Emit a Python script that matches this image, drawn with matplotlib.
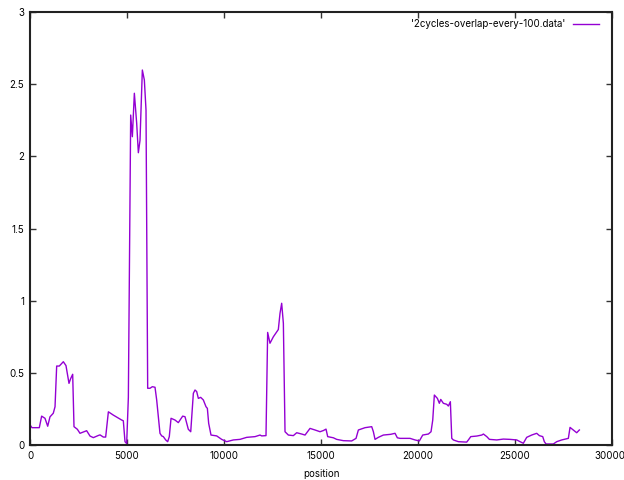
import matplotlib
matplotlib.use("Agg")
import matplotlib.pyplot as plt
import matplotlib.transforms as mtransforms

plt.rcParams["font.family"] = ["Inter", "DejaVu Sans"]

position = [
    0, 100, 480, 600, 773, 912, 1030, 1200, 1290, 1375, 1510, 1718, 1855,
    2010, 2096, 2200, 2268, 2440, 2577, 2920, 3093, 3265, 3523, 3610, 3780,
    3900, 4040, 4297, 4725, 4810, 4897, 4983, 5070, 5190, 5276, 5379, 5499,
    5585, 5670, 5791, 5894, 5980, 6066, 6186, 6306, 6444, 6530, 6700, 6788,
    6873, 6995, 7097, 7180, 7270, 7474, 7645, 7870, 7990, 8160, 8285, 8420,
    8506, 8592, 8678, 8799, 8935, 9073, 9142, 9210, 9330, 9623, 9880, 10140,
    10481, 10825, 11170, 11600, 11857, 11943, 12165, 12250, 12370, 12545,
    12800, 12887, 12973, 13060, 13145, 13317, 13575, 13747, 14004, 14177,
    14434, 14692, 14950, 15120, 15259, 15345, 15637, 15808, 16152, 16581,
    16806, 16926, 17270, 17614, 17700, 17785, 17957, 18215, 18593, 18816,
    18935, 19073, 19589, 19847, 20070, 20244, 20534, 20672, 20760, 20843,
    21000, 21100, 21172, 21307, 21480, 21565, 21668, 21740, 21823, 22080,
    22510, 22597, 22720, 23030, 23286, 23372, 23545, 23680, 24060, 24400,
    24744, 25090, 25260, 25430, 25603, 25860, 26118, 26255, 26430, 26512,
    26600, 26976, 27150, 27407, 27750, 27837, 28007, 28180, 28317,
]
value = [
    0.14, 0.12, 0.12, 0.20, 0.185, 0.13, 0.195, 0.22, 0.265, 0.547, 0.547,
    0.577, 0.55, 0.427, 0.46, 0.49, 0.127, 0.109, 0.081, 0.099, 0.062,
    0.051, 0.066, 0.07, 0.055, 0.055, 0.23, 0.207, 0.173, 0.168, 0.023,
    0.01, 0.33, 2.286, 2.136, 2.437, 2.229, 2.025, 2.11, 2.598, 2.529, 2.32,
    0.393, 0.393, 0.404, 0.40, 0.312, 0.081, 0.063, 0.058, 0.035, 0.023,
    0.058, 0.185, 0.173, 0.155, 0.20, 0.196, 0.109, 0.092, 0.358, 0.381,
    0.37, 0.323, 0.33, 0.312, 0.265, 0.254, 0.15, 0.069, 0.063, 0.039,
    0.023, 0.035, 0.039, 0.053, 0.058, 0.069, 0.063, 0.065, 0.78, 0.705,
    0.75, 0.80, 0.912, 0.982, 0.843, 0.092, 0.069, 0.065, 0.085, 0.076,
    0.069, 0.115, 0.104, 0.092, 0.10, 0.11, 0.058, 0.05, 0.039, 0.03,
    0.028, 0.046, 0.104, 0.12, 0.127, 0.092, 0.039, 0.053, 0.069, 0.074,
    0.081, 0.05, 0.046, 0.046, 0.035, 0.028, 0.069, 0.076, 0.092, 0.173,
    0.346, 0.323, 0.289, 0.316, 0.289, 0.282, 0.27, 0.30, 0.046, 0.035,
    0.023, 0.02, 0.035, 0.058, 0.062, 0.069, 0.076, 0.058, 0.039, 0.035,
    0.041, 0.039, 0.035, 0.023, 0.012, 0.053, 0.069, 0.081, 0.065, 0.058,
    0.023, 0.007, 0.007, 0.023, 0.035, 0.046, 0.122, 0.104, 0.085, 0.104,
]
series_label = "'2cycles-overlap-every-100.data'"
x_ticks = [0, 5000, 10000, 15000, 20000, 25000, 30000]
y_ticks = [0, 0.5, 1, 1.5, 2, 2.5, 3]

fig = plt.figure(figsize=(6.24, 4.8), dpi=100)
ax = fig.add_axes([30 / 624, 35 / 480, 582 / 624, 433 / 480])

ax.plot(position, value, color="#9400d3", linewidth=1, label=series_label)

ax.set_xlim(0, 30000)
ax.set_ylim(0, 3)
ax.set_xticks(x_ticks)
ax.set_yticks(y_ticks)
ax.set_yticklabels(["0", "0.5", "1", "1.5", "2", "2.5", "3"])
ax.tick_params(direction="in", top=True, right=True, length=4, width=1,
               labelsize=7, color="#333333", pad=4)
for s in ax.spines.values():
    s.set_linewidth(1.5)
    s.set_color("#222222")

# keep the last x label inside the canvas
last = ax.get_xticklabels()[-1]
last.set_transform(last.get_transform() +
                   mtransforms.ScaledTranslation(-2 / 100, 0, fig.dpi_scale_trans))

ax.set_xlabel("position", fontsize=7, labelpad=6)

ax.legend(loc="upper right", frameon=False, markerfirst=False,
          fontsize=7, handlelength=2.7, borderaxespad=0.35,
          handletextpad=0.8, bbox_to_anchor=(0.99, 1.0))

fig.savefig("out.png", dpi=100)
